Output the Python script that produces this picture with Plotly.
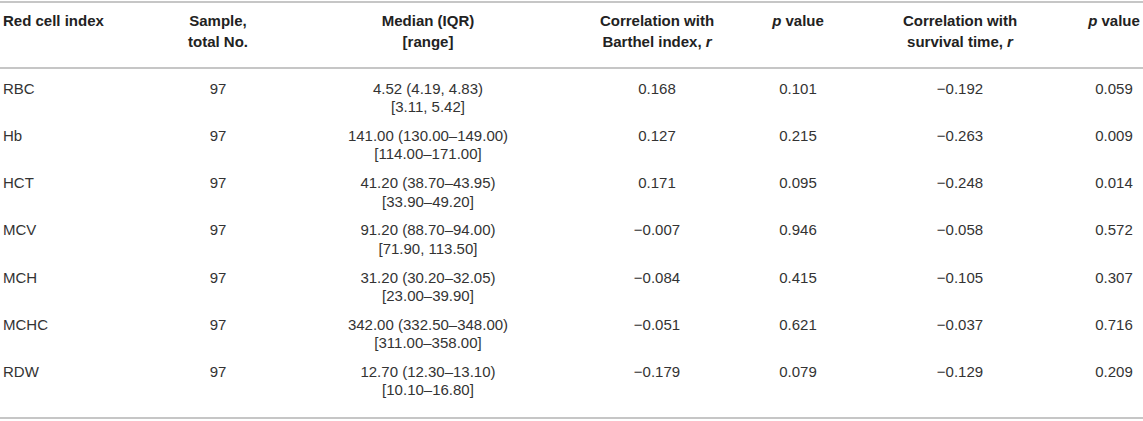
"""
Red cell indices table (median, IQR, correlations) drawn with Plotly.
"""
import plotly.graph_objects as go

# ---- table data ----
headers_1 = ["Red cell index", "Sample,", "Median (IQR)", "Correlation with",
             "<i>p</i> value", "Correlation with", "<i>p</i> value"]
headers_2 = ["", "total No.", "[range]", "Barthel index, <i>r</i>",
             "", "survival time, <i>r</i>", ""]

indices = ["RBC", "Hb", "HCT", "MCV", "MCH", "MCHC", "RDW"]
sample_n = [97, 97, 97, 97, 97, 97, 97]
medians = ["4.52 (4.19, 4.83)", "141.00 (130.00–149.00)", "41.20 (38.70–43.95)",
           "91.20 (88.70–94.00)", "31.20 (30.20–32.05)", "342.00 (332.50–348.00)",
           "12.70 (12.30–13.10)"]
ranges = ["[3.11, 5.42]", "[114.00–171.00]", "[33.90–49.20]", "[71.90, 113.50]",
          "[23.00–39.90]", "[311.00–358.00]", "[10.10–16.80]"]
r_barthel = [0.168, 0.127, 0.171, -0.007, -0.084, -0.051, -0.179]
p_barthel = [0.101, 0.215, 0.095, 0.946, 0.415, 0.621, 0.079]
r_survival = [-0.192, -0.263, -0.248, -0.058, -0.105, -0.037, -0.129]
p_survival = [0.059, 0.009, 0.014, 0.572, 0.307, 0.716, 0.209]

# ---- layout ----
W, H = 1143, 421
FONT = "Liberation Sans, Arial, Helvetica, sans-serif"
SIZE = 15
TEXT_COLOR = "#333333"
HEAD_COLOR = "#222222"
RULE_COLOR = "#b3b3b3"

col_x = [3, 218, 428, 657, 798, 960, 1114]
head_y1, head_y2 = 22, 43
rule_ys = [2, 68, 418]
row_y0, row_step, line_gap = 90, 47.2, 18.5


def fmt(v):
    return f"{v:.3f}".replace("-", "\u2212")


fig = go.Figure()


def add_text(xs, ys, texts, color, position="middle center", bold=False):
    if bold:
        texts = [f"<b>{t}</b>" if t else "" for t in texts]
    fig.add_trace(go.Scatter(
        x=xs, y=ys, text=texts, mode="text",
        textposition=position,
        textfont=dict(family=FONT, size=SIZE, color=color),
        hoverinfo="skip", showlegend=False,
    ))


# header
add_text([col_x[0]], [head_y1], [headers_1[0]], HEAD_COLOR, "middle right", bold=True)
add_text(col_x[1:], [head_y1] * 6, headers_1[1:], HEAD_COLOR, bold=True)
add_text(col_x[1:], [head_y2] * 6, headers_2[1:], HEAD_COLOR, bold=True)

# body
n = len(indices)
ys1 = [row_y0 + i * row_step for i in range(n)]
ys2 = [y + line_gap for y in ys1]

add_text([col_x[0]] * n, ys1, indices, TEXT_COLOR, "middle right")
add_text([col_x[1]] * n, ys1, [str(s) for s in sample_n], TEXT_COLOR)
add_text([col_x[2]] * n, ys1, medians, TEXT_COLOR)
add_text([col_x[2]] * n, ys2, ranges, TEXT_COLOR)
add_text([col_x[3]] * n, ys1, [fmt(v) for v in r_barthel], TEXT_COLOR)
add_text([col_x[4]] * n, ys1, [fmt(v) for v in p_barthel], TEXT_COLOR)
add_text([col_x[5]] * n, ys1, [fmt(v) for v in r_survival], TEXT_COLOR)
add_text([col_x[6]] * n, ys1, [fmt(v) for v in p_survival], TEXT_COLOR)

# horizontal rules
for y in rule_ys:
    fig.add_shape(type="line", x0=0, x1=W, y0=y, y1=y, xref="x", yref="y",
                  line=dict(color=RULE_COLOR, width=1.5))

fig.update_layout(
    width=W, height=H,
    margin=dict(l=0, r=0, t=0, b=0),
    paper_bgcolor="white", plot_bgcolor="white",
    xaxis=dict(range=[0, W], visible=False, fixedrange=True),
    yaxis=dict(range=[H, 0], visible=False, fixedrange=True),
)

# drop the browser's default body margin so the figure sits at (0, 0)
fig.write_html(
    "out.html",
    config={"displayModeBar": False},
    post_script="document.body.style.margin='0';document.body.style.overflow='hidden';",
)
